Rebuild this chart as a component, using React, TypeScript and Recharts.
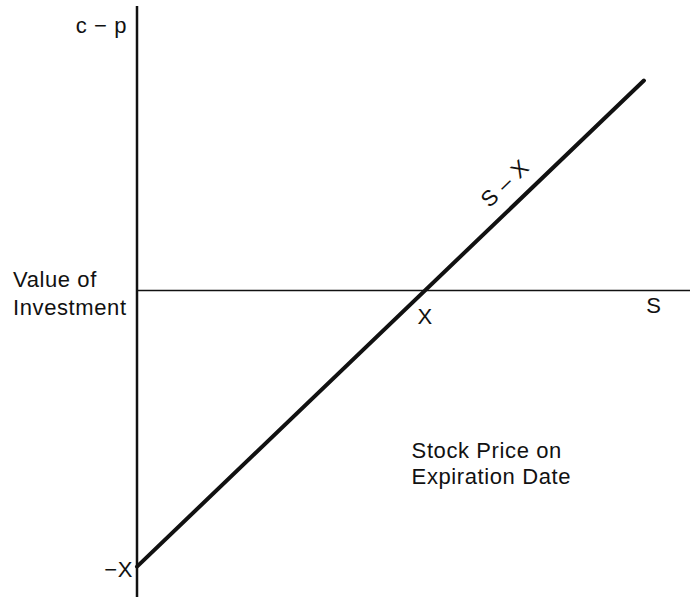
import { LineChart, Line, XAxis, YAxis, ReferenceLine, ReferenceDot } from 'recharts';

// payoff of long call + short put at expiration: c - p = S - X
const STRIKE = 100;
const stockPrices = [0, 176];
const payoff = stockPrices.map((s) => s - STRIKE);

const yTicks = [-STRIKE, 0];
const yTickLabels: Record<number, string[]> = {
  [-STRIKE]: ['−X'],
  0: ['Value of', 'Investment'],
};

const chartData = stockPrices.map((s, i) => ({ s, value: payoff[i] }));

const FONT = '"Liberation Sans", Arial, sans-serif';
const INK = '#111';
const txt = { fontSize: 22, fontFamily: FONT, fill: INK, letterSpacing: 0.6 };

function YTick({ y, payload }: any) {
  const lines = yTickLabels[payload.value] ?? [];
  if (lines.length === 1) {
    return (
      <text x={133} y={y + 10} textAnchor="end" {...txt}>
        {lines[0]}
      </text>
    );
  }
  return (
    <text x={13} y={y - 3} {...txt}>
      {lines.map((t, i) => (
        <tspan key={t} x={13} dy={i === 0 ? 0 : 28}>
          {t}
        </tspan>
      ))}
    </text>
  );
}

export default function App() {
  return (
    <div style={{ position: 'fixed', left: 0, top: 0, background: '#fff' }}>
      <LineChart width={690} height={600} data={chartData} margin={{ top: 6, right: 0, bottom: 3, left: 0 }}>
        <XAxis dataKey="s" type="number" domain={[0, 192]} hide />
        <YAxis
          type="number"
          domain={[-111, 103]}
          ticks={yTicks}
          width={137}
          axisLine={false}
          tickLine={false}
          tick={<YTick />}
        />
        <ReferenceLine
          x={0}
          stroke={INK}
          strokeWidth={2.5}
          label={({ viewBox }: any) => (
            <text x={viewBox.x - 10} y={viewBox.y + 27} textAnchor="end" {...txt}>
              c − p
            </text>
          )}
        />
        <ReferenceLine
          y={0}
          stroke={INK}
          strokeWidth={1.5}
          label={({ viewBox }: any) => (
            <text x={viewBox.x + viewBox.width - 36} y={viewBox.y + 23} textAnchor="middle" {...txt}>
              S
            </text>
          )}
        />
        <ReferenceDot
          x={STRIKE}
          y={0}
          r={1}
          fill="none"
          stroke="none"
          label={({ viewBox }: any) => (
            <text x={viewBox.x + 1} y={viewBox.y + 35} textAnchor="middle" {...txt}>
              X
            </text>
          )}
        />
        <ReferenceDot
          x={128}
          y={28}
          r={1}
          fill="none"
          stroke="none"
          label={({ viewBox }: any) => (
            <text
              transform={`translate(${viewBox.x},${viewBox.y - 29}) rotate(-44)`}
              textAnchor="middle"
              dy="0.35em"
              {...txt}
            >
              S – X
            </text>
          )}
        />
        <ReferenceDot
          x={95}
          y={-55}
          r={1}
          fill="none"
          stroke="none"
          label={({ viewBox }: any) => (
            <text x={viewBox.x + 2} y={viewBox.y + 17} {...txt}>
              <tspan x={viewBox.x + 2}>Stock Price on</tspan>
              <tspan x={viewBox.x + 2} dy={26}>Expiration Date</tspan>
            </text>
          )}
        />
        <Line
          dataKey="value"
          stroke={INK}
          strokeWidth={4}
          strokeLinecap="round"
          dot={false}
          isAnimationActive={false}
        />
      </LineChart>
    </div>
  );
}
